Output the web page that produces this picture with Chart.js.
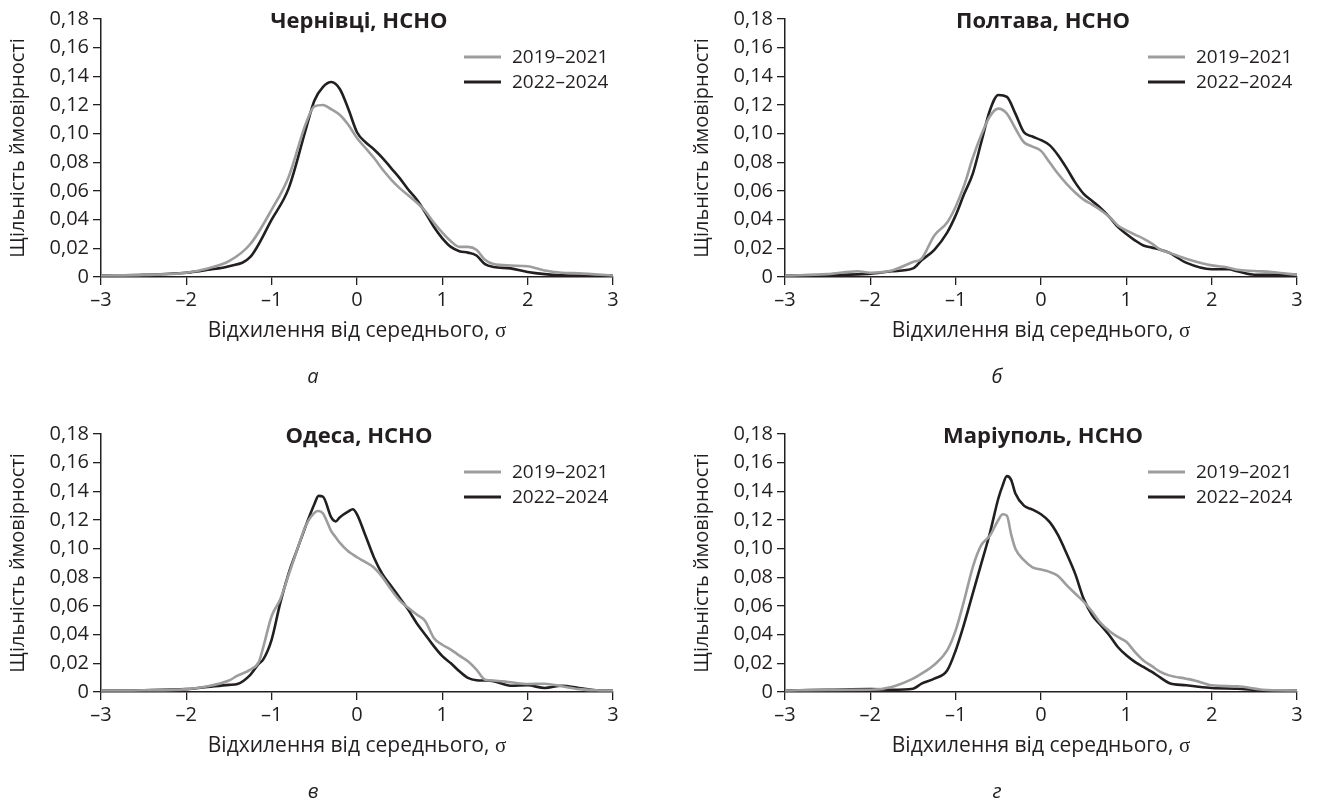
<!DOCTYPE html>
<html>
<head>
<meta charset="utf-8">
<script src="https://cdn.jsdelivr.net/npm/chart.js@4.4.1/dist/chart.umd.min.js"></script>
<style>
    html, body { margin: 0; padding: 0; background: #fff; }
    body { width: 1320px; height: 804px; position: relative; overflow: hidden; }
    .panel { position: absolute; width: 636px; height: 389px; }
</style>
</head>
<body>
<div class="panel" style="left:0;top:0"><canvas id="chartA" width="636" height="389"></canvas></div>
<div class="panel" style="left:684px;top:0"><canvas id="chartB" width="636" height="389"></canvas></div>
<div class="panel" style="left:0;top:415px"><canvas id="chartC" width="636" height="389"></canvas></div>
<div class="panel" style="left:684px;top:415px"><canvas id="chartD" width="636" height="389"></canvas></div>
<script>
// tick labels and series names
const xTickLabels = ['–3', '–2', '–1', '0', '1', '2', '3'];
const yTickLabels = ['0', '0,02', '0,04', '0,06', '0,08', '0,10', '0,12', '0,14', '0,16', '0,18'];
const seriesNames = ['2019–2021', '2022–2024'];
const panelTitles = ['Чернівці, НСНО', 'Полтава, НСНО', 'Одеса, НСНО', 'Маріуполь, НСНО'];
const panelLetters = ['а', 'б', 'в', 'г'];

// Чернівці
const chernivtsiX = [-3, -2.5, -2, -1.75, -1.5, -1.25, -1, -0.8, -0.6, -0.5, -0.4, -0.3, -0.2, -0.1, 0, 0.1, 0.2, 0.3, 0.4, 0.5, 0.6, 0.7, 0.8, 0.9, 1.0, 1.1, 1.2, 1.3, 1.4, 1.5, 1.6, 1.8, 2.0, 2.2, 2.4, 2.6, 3];
const chernivtsiOld = [0.001, 0.0015, 0.003, 0.006, 0.011, 0.023, 0.047, 0.070, 0.107, 0.119, 0.120, 0.117, 0.113, 0.106, 0.097, 0.090, 0.083, 0.075, 0.068, 0.062, 0.057, 0.052, 0.046, 0.038, 0.031, 0.025, 0.021, 0.021, 0.019, 0.012, 0.009, 0.008, 0.0075, 0.0045, 0.003, 0.0025, 0.001];
const chernivtsiNew = [0.001, 0.0015, 0.003, 0.005, 0.0075, 0.014, 0.040, 0.062, 0.103, 0.123, 0.1325, 0.136, 0.131, 0.117, 0.101, 0.094, 0.089, 0.083, 0.076, 0.069, 0.061, 0.054, 0.045, 0.035, 0.027, 0.021, 0.018, 0.017, 0.015, 0.009, 0.007, 0.006, 0.0035, 0.002, 0.0012, 0.001, 0.001];

// Полтава
const poltavaX = [-3, -2.5, -2.15, -2, -1.75, -1.5, -1.4, -1.25, -1.1, -1, -0.9, -0.8, -0.7, -0.6, -0.5, -0.4, -0.3, -0.2, -0.1, 0, 0.1, 0.2, 0.3, 0.4, 0.5, 0.6, 0.7, 0.8, 0.9, 1.0, 1.1, 1.2, 1.3, 1.4, 1.5, 1.7, 2.0, 2.2, 2.3, 2.5, 2.7, 3];
const poltavaOld = [0.001, 0.002, 0.004, 0.003, 0.0045, 0.0105, 0.0128, 0.029, 0.038, 0.049, 0.064, 0.083, 0.099, 0.112, 0.1175, 0.114, 0.1036, 0.094, 0.091, 0.088, 0.080, 0.072, 0.065, 0.059, 0.054, 0.0505, 0.0466, 0.042, 0.036, 0.0326, 0.0296, 0.0268, 0.0233, 0.019, 0.017, 0.0128, 0.0081, 0.0065, 0.005, 0.0042, 0.0035, 0.0015];
const poltavaNew = [0.001, 0.0012, 0.0018, 0.0023, 0.004, 0.006, 0.0116, 0.019, 0.031, 0.043, 0.058, 0.072, 0.094, 0.116, 0.127, 0.1257, 0.114, 0.101, 0.098, 0.0955, 0.092, 0.085, 0.076, 0.066, 0.058, 0.053, 0.048, 0.042, 0.035, 0.030, 0.0256, 0.022, 0.0205, 0.019, 0.017, 0.010, 0.0054, 0.0054, 0.004, 0.0016, 0.0016, 0.0015];

// Одеса
const odesaX = [-3, -2.5, -2, -1.75, -1.5, -1.4, -1.25, -1.15, -1.1, -1, -0.9, -0.8, -0.7, -0.6, -0.5, -0.45, -0.4, -0.3, -0.25, -0.2, -0.1, -0.05, 0, 0.1, 0.2, 0.3, 0.4, 0.5, 0.6, 0.7, 0.8, 0.9, 1.0, 1.1, 1.2, 1.3, 1.4, 1.5, 1.6, 1.8, 2.0, 2.2, 2.4, 2.6, 2.8, 3];
const odesaOld = [0.001, 0.0012, 0.002, 0.004, 0.008, 0.0114, 0.0156, 0.021, 0.031, 0.053, 0.0645, 0.082, 0.0995, 0.116, 0.125, 0.1263, 0.1247, 0.112, 0.108, 0.104, 0.098, 0.096, 0.094, 0.0906, 0.0867, 0.080, 0.0715, 0.064, 0.0587, 0.054, 0.0494, 0.0377, 0.033, 0.0296, 0.0254, 0.0214, 0.0156, 0.0086, 0.008, 0.0068, 0.0056, 0.0058, 0.004, 0.002, 0.0012, 0.001];
const odesaNew = [0.001, 0.0012, 0.002, 0.0035, 0.005, 0.0056, 0.012, 0.0198, 0.0226, 0.0366, 0.062, 0.083, 0.0995, 0.116, 0.131, 0.1368, 0.1363, 0.1216, 0.119, 0.122, 0.126, 0.1275, 0.124, 0.109, 0.0937, 0.082, 0.074, 0.0657, 0.0575, 0.048, 0.040, 0.032, 0.025, 0.020, 0.0144, 0.0098, 0.0082, 0.008, 0.0075, 0.0044, 0.0047, 0.0028, 0.0044, 0.0028, 0.0012, 0.001];

// Маріуполь
const mariupolX = [-3, -2.5, -2, -1.75, -1.5, -1.4, -1.25, -1.1, -1, -0.9, -0.8, -0.7, -0.6, -0.5, -0.45, -0.4, -0.35, -0.3, -0.2, -0.1, 0, 0.1, 0.2, 0.3, 0.4, 0.5, 0.6, 0.7, 0.8, 0.9, 1.0, 1.1, 1.2, 1.3, 1.4, 1.5, 1.7, 1.8, 2.0, 2.3, 2.6, 3];
const mariupolOld = [0.001, 0.0015, 0.0016, 0.0035, 0.0093, 0.0128, 0.019, 0.029, 0.043, 0.064, 0.087, 0.1024, 0.109, 0.12, 0.124, 0.123, 0.110, 0.100, 0.092, 0.087, 0.0854, 0.0838, 0.081, 0.0745, 0.0687, 0.063, 0.056, 0.048, 0.0426, 0.0384, 0.035, 0.028, 0.022, 0.018, 0.014, 0.0116, 0.0093, 0.0081, 0.0047, 0.004, 0.0016, 0.001];
const mariupolNew = [0.001, 0.0015, 0.002, 0.0016, 0.0023, 0.0058, 0.0093, 0.015, 0.029, 0.0477, 0.0687, 0.0896, 0.1106, 0.135, 0.144, 0.1506, 0.148, 0.1385, 0.130, 0.1273, 0.124, 0.1187, 0.1094, 0.0966, 0.0826, 0.065, 0.0535, 0.0466, 0.0396, 0.0314, 0.0256, 0.021, 0.0175, 0.014, 0.010, 0.0063, 0.0047, 0.004, 0.0028, 0.0023, 0.0012, 0.001];

const ink = '#231f20';
const greyLine = '#9d9d9d';
const font = '"Open Sans", "Noto Sans", sans-serif';
const serif = '"Liberation Serif", "DejaVu Serif", serif';

Chart.defaults.font.family = font;
Chart.defaults.color = ink;

// draws panel title, legend, axis titles and the letter under each panel
const panelText = {
    id: 'panelText',
    afterDraw(chart, args, opts) {
        const { ctx, chartArea } = chart;
        const { left, right, top, bottom } = chartArea;
        const cx = (left + right) / 2;
        ctx.save();
        ctx.fillStyle = ink;
        ctx.textBaseline = 'middle';

        ctx.textAlign = 'center';
        ctx.font = 'bold 22px ' + font;
        ctx.fillText(opts.title, cx + 2, top + 3);

        // legend
        ctx.font = '19px ' + font;
        ctx.textAlign = 'left';
        const textX = right - 101;
        chart.data.datasets.forEach((ds, i) => {
            const y = top + 38 + i * 25;
            ctx.strokeStyle = ds.borderColor;
            ctx.lineWidth = 3;
            ctx.beginPath();
            ctx.moveTo(textX - 48, y);
            ctx.lineTo(textX - 11, y);
            ctx.stroke();
            ctx.fillText(ds.label, textX, y + 1);
        });

        // y title
        ctx.save();
        ctx.font = '20px ' + font;
        ctx.translate(18, (top + bottom) / 2);
        ctx.rotate(-Math.PI / 2);
        ctx.textAlign = 'center';
        ctx.fillText('Щільність ймовірності', 0, 0);
        ctx.restore();

        // x title with serif sigma
        const main = 'Відхилення від середнього, ';
        ctx.font = '21px ' + font;
        const w1 = ctx.measureText(main).width;
        ctx.font = '21px ' + serif;
        const w2 = ctx.measureText('σ').width;
        const x0 = cx - (w1 + w2) / 2;
        ctx.textAlign = 'left';
        ctx.font = '21px ' + font;
        ctx.fillText(main, x0, bottom + 54);
        ctx.font = '21px ' + serif;
        ctx.fillText('σ', x0 + w1, bottom + 54);

        // panel letter
        ctx.textAlign = 'center';
        ctx.font = 'italic 20px ' + font;
        ctx.fillText(opts.letter, left + 212, bottom + 100);
        ctx.restore();
    }
};

function toPoints(xs, ys) {
    return xs.map((x, i) => ({ x: x, y: ys[i] }));
}

function makeChart(id, idx, xs, oldVals, newVals) {
    const el = document.getElementById(id);
    return new Chart(el, {
        type: 'line',
        data: {
            datasets: [{
                label: seriesNames[0],
                data: toPoints(xs, oldVals),
                borderColor: greyLine,
                borderWidth: 2.6,
                pointRadius: 0,
                cubicInterpolationMode: 'monotone',
                fill: false
            }, {
                label: seriesNames[1],
                data: toPoints(xs, newVals),
                borderColor: ink,
                borderWidth: 2.6,
                pointRadius: 0,
                cubicInterpolationMode: 'monotone',
                fill: false
            }]
        },
        options: {
            responsive: false,
            maintainAspectRatio: false,
            animation: false,
            layout: {
                padding: { left: 0, right: 23, top: 19, bottom: 0 }
            },
            plugins: {
                legend: { display: false },
                tooltip: { enabled: false },
                panelText: { title: panelTitles[idx], letter: panelLetters[idx] }
            },
            scales: {
                x: {
                    type: 'linear',
                    min: -3,
                    max: 3,
                    afterFit: (scale) => { scale.height = 112; },
                    grid: {
                        drawOnChartArea: false,
                        drawTicks: true,
                        tickLength: 8,
                        color: ink,
                        lineWidth: 1.3
                    },
                    border: { display: true, color: ink, width: 1.5 },
                    ticks: {
                        stepSize: 1,
                        padding: 3,
                        maxRotation: 0,
                        font: { size: 20 },
                        color: ink,
                        callback: (value, index) => xTickLabels[index]
                    }
                },
                y: {
                    min: 0,
                    max: 0.18,
                    afterFit: (scale) => { scale.width = 101; },
                    grid: {
                        drawOnChartArea: false,
                        drawTicks: true,
                        tickLength: 8,
                        color: ink,
                        lineWidth: 1.3
                    },
                    border: { display: true, color: ink, width: 1.5 },
                    ticks: {
                        stepSize: 0.02,
                        padding: 4,
                        font: { size: 20 },
                        color: ink,
                        callback: (value, index) => yTickLabels[index]
                    }
                }
            }
        },
        plugins: [panelText]
    });
}

makeChart('chartA', 0, chernivtsiX, chernivtsiOld, chernivtsiNew);
makeChart('chartB', 1, poltavaX, poltavaOld, poltavaNew);
makeChart('chartC', 2, odesaX, odesaOld, odesaNew);
makeChart('chartD', 3, mariupolX, mariupolOld, mariupolNew);
</script>
</body>
</html>
